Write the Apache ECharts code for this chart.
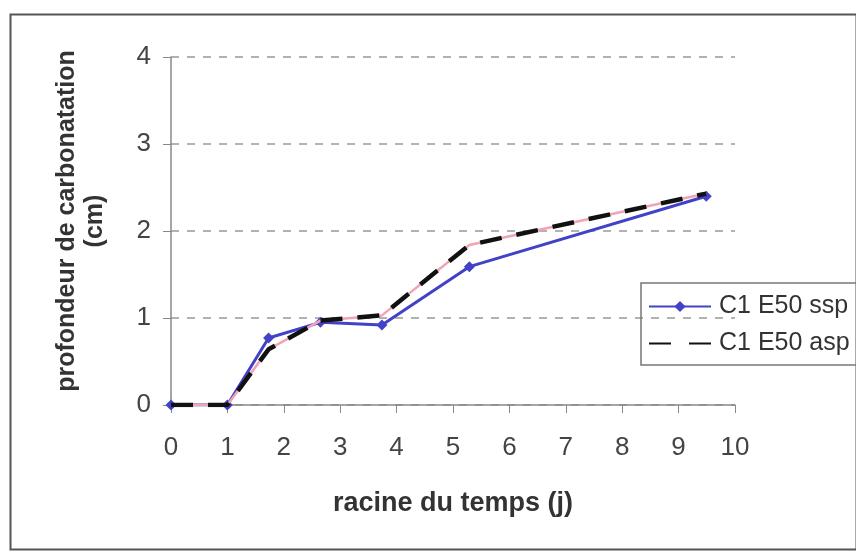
<!DOCTYPE html>
<html><head><meta charset="utf-8">
<script src="https://cdn.jsdelivr.net/npm/echarts@6/dist/echarts.min.js"></script>
<style>html,body{margin:0;padding:0;background:#fff}#c{width:856px;height:553px}</style>
</head><body><div id="c"></div>
<script>
const xTicks = [0,1,2,3,4,5,6,7,8,9,10];
const yTicks = [0,1,2,3,4];
const xSsp = [0, 1, 1.73, 2.65, 3.74, 5.29, 9.49];
const ySsp = [0, 0, 0.77, 0.95, 0.92, 1.59, 2.40];
const xAsp = [0, 1, 1.73, 2.65, 3.74, 5.29, 9.49];
const yAsp = [0, 0, 0.64, 0.97, 1.03, 1.84, 2.43];
const nameSsp = 'C1 E50 ssp';
const nameAsp = 'C1 E50 asp';

const pair = (xs, ys) => xs.map((x, i) => [x, ys[i]]);
const font = 'Liberation Sans, Arial, sans-serif';
const chart = echarts.init(document.getElementById('c'), null, {renderer: 'canvas'});
chart.setOption({
  backgroundColor: '#fff',
  animation: false,
  textStyle: {fontFamily: font},
  graphic: [{
    type: 'rect', left: 8, top: 12, shape: {width: 846, height: 535},
    style: {fill: 'none', stroke: '#555', lineWidth: 2}, z: -1
  }],
  grid: {left: 171, right: 121, top: 57, bottom: 148},
  legend: {
    data: [
      {name: nameSsp},
      {name: nameAsp, itemStyle: {opacity: 0}, lineStyle: {type: [22, 18]}}
    ],
    orient: 'vertical',
    left: 641, top: 283,
    padding: [11, 60, 9, 7],
    itemGap: 12,
    itemWidth: 62, itemHeight: 14,
    borderColor: '#777', borderWidth: 1.5, borderRadius: 0,
    textStyle: {fontSize: 25, color: '#333', fontFamily: font, padding: [0, 0, 0, 3]}
  },
  xAxis: {
    type: 'value', min: 0, max: 10, interval: 1,
    name: 'racine du temps (j)', nameLocation: 'middle', nameGap: 85,
    nameTextStyle: {fontSize: 27, fontWeight: 'bold', color: '#333'},
    axisLine: {show: true, lineStyle: {color: '#888', width: 1.5}},
    axisTick: {show: true, length: 8, lineStyle: {color: '#888'}},
    axisLabel: {fontSize: 26, color: '#444', margin: 30, formatter: v => xTicks.includes(v) ? String(v) : ''},
    splitLine: {show: false}
  },
  yAxis: {
    type: 'value', min: 0, max: 4, interval: 1,
    name: 'profondeur de carbonatation\n(cm)', nameLocation: 'middle', nameGap: 62, nameRotate: 90,
    nameTextStyle: {fontSize: 25, fontWeight: 'bold', color: '#333', lineHeight: 28, padding: [0, 0, 0, 20]},
    axisLine: {show: true, lineStyle: {color: '#888', width: 1.5}},
    axisTick: {show: true, inside: false, length: 8, lineStyle: {color: '#888'}},
    axisLabel: {fontSize: 26, color: '#444', margin: 20, formatter: v => yTicks.includes(v) ? String(v) : ''},
    splitLine: {show: true, lineStyle: {color: '#999', type: [8, 8], width: 1.5}}
  },
  series: [
    {
      name: nameSsp, type: 'line', data: pair(xSsp, ySsp),
      symbol: 'diamond', symbolSize: 11, showSymbol: true,
      itemStyle: {color: '#4242c8'},
      lineStyle: {color: '#4242c8', width: 3}, z: 3
    },
    {
      name: 'asp-pink', type: 'line', data: pair(xAsp, yAsp),
      symbol: 'none', lineStyle: {color: '#f2a4b4', width: 2.5}, z: 4
    },
    {
      name: nameAsp, type: 'line', data: pair(xAsp, yAsp),
      symbol: 'none', itemStyle: {color: '#111'},
      lineStyle: {color: '#111', width: 4.5, type: [22, 15]}, z: 5
    }
  ]
});
</script></body></html>
